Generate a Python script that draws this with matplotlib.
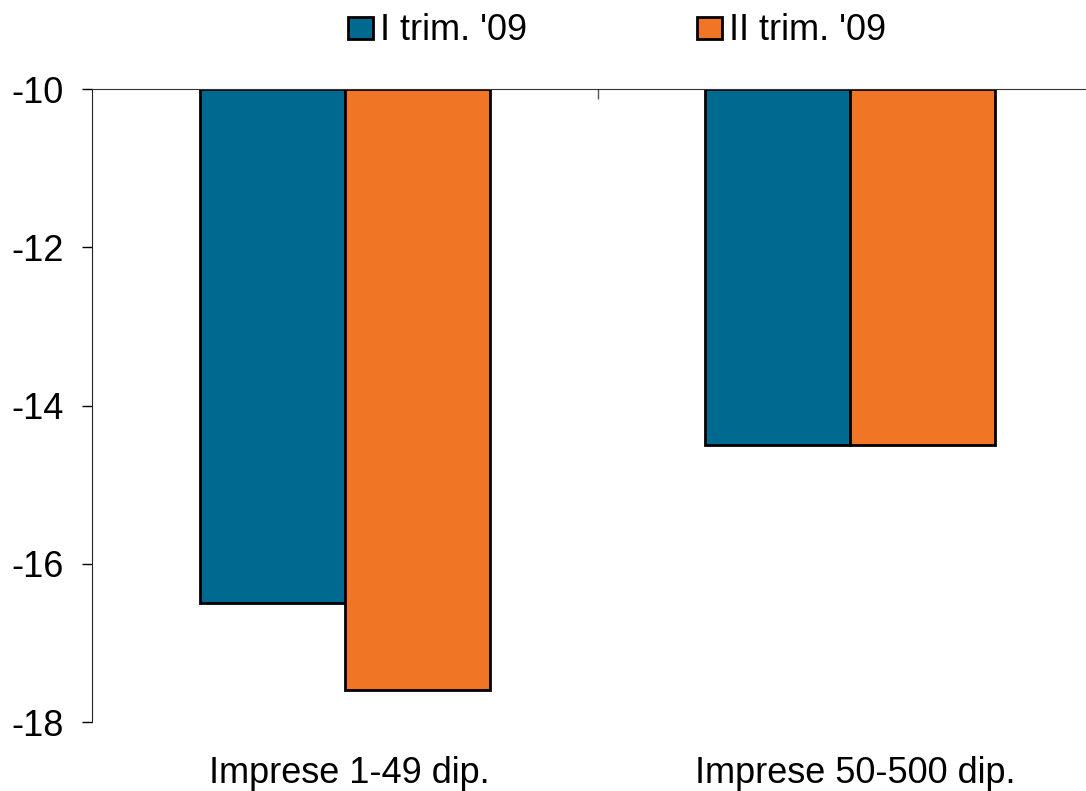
import matplotlib.pyplot as plt
import matplotlib.transforms as mtransforms
import numpy as np

categories = ["Imprese 1-49 dip.", "Imprese 50-500 dip."]
series_names = ["I trim. '09", "II trim. '09"]
q1_values = [-16.5, -14.5]
q2_values = [-17.6, -14.5]
yticks = [-10, -12, -14, -16, -18]

colors = ["#006990", "#F07524"]

plt.rcParams['font.family'] = ['Liberation Sans', 'DejaVu Sans']

fig = plt.figure(figsize=(10.86, 7.91), dpi=100)
ax = fig.add_axes([0.0847, 0.0872, 0.931, 0.800])

x = np.arange(len(categories))
w = 0.287
base = -10
for i, (vals, name) in enumerate(zip([q1_values, q2_values], series_names)):
    heights = [v - base for v in vals]
    ax.bar(x + (i - 0.5) * w, heights, width=w, bottom=base, color=colors[i],
           edgecolor='black', linewidth=2, label=name)

ax.set_xlim(-0.5, 1.5)
ax.set_ylim(-18, -10)
ax.set_yticks(yticks)
ax.set_yticklabels([str(t) for t in yticks])
ax.tick_params(axis='y', direction='out', length=7.5, width=1, pad=13, labelsize=26)

ax.set_xticks(x)
ax.set_xticklabels(categories)
ax.tick_params(axis='x', which='major', length=0, pad=24.5, labelsize=26)
# labels sit a little right of the bar centres in the original
shift = mtransforms.ScaledTranslation(5 / 100, 0, fig.dpi_scale_trans)
for lbl in ax.get_xticklabels():
    lbl.set_transform(lbl.get_transform() + shift)
ax.set_xticks([0.5], minor=True)
ax.tick_params(axis='x', which='minor', bottom=False, top=True, direction='in',
               length=7, width=1, color='#555555')

ax.spines['bottom'].set_visible(False)
ax.spines['right'].set_visible(False)
ax.spines['top'].set_color('#333333')
ax.spines['left'].set_color('#222222')

fig.legend(loc='center', bbox_to_anchor=(617 / 1086, 1 - 31 / 791), ncol=2,
           frameon=False, fontsize=26, handlelength=0.7, handleheight=0.55,
           handletextpad=0.2, columnspacing=4.7)

fig.savefig('out.png', dpi=100)
